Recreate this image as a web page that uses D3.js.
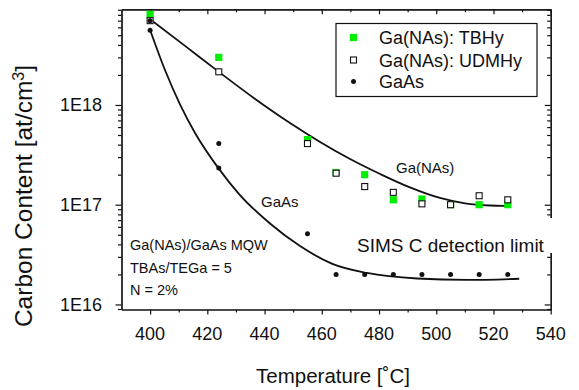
<!DOCTYPE html>
<html>
<head>
<meta charset="utf-8">
<script src="https://cdn.jsdelivr.net/npm/d3@7"></script>
<style>
  body { margin: 0; background: #fff; }
  text { font-family: "Liberation Sans", Arial, sans-serif; fill: #111; }
  .axis path, .axis line { stroke: #111; stroke-width: 1.2; }
</style>
</head>
<body>
<div id="chart"></div>
<script>
// Data
var tbhyTemp = [400, 424, 455, 465, 475, 485, 495, 505, 515, 525];
var tbhyC = [8.1e18, 3.0e18, 4.5e17, 2.1e17, 2.0e17, 1.12e17, 1.14e17, 1.0e17, 1.0e17, 1.0e17];

var udmhyTemp = [400, 424, 455, 465, 475, 485, 495, 505, 515, 525];
var udmhyC = [7.0e18, 2.15e18, 4.1e17, 2.07e17, 1.52e17, 1.33e17, 1.02e17, 1.0e17, 1.23e17, 1.12e17];

var gaasTemp = [400, 400, 424, 424, 455, 465, 475, 485, 495, 505, 515, 525];
var gaasC = [7.0e18, 5.6e18, 4.1e17, 2.33e17, 5.1e16, 2.0e16, 2.0e16, 2.0e16, 2.0e16, 2.0e16, 2.0e16, 2.0e16];

// fit curves
var fitNAsTemp = [400, 412.2, 423.8, 436.7, 448.9, 459.4, 469.9, 480.4, 490.8, 501.3, 510.1, 518.8, 524.1];
var fitNAsC = [7.24e18, 3.91e18, 2.17e18, 1.15e18, 6.6e17, 4.26e17, 2.87e17, 2.03e17, 1.49e17, 1.168e17, 1.03e17, 9.82e16, 9.75e16];

var fitGaAsTemp = [400, 405.2, 410.4, 415.7, 423.8, 431.4, 441.9, 452.4, 463.9, 475.8, 493.3, 510.8, 529];
var fitGaAsC = [5.65e18, 2.24e18, 1.02e18, 5.24e17, 2.34e17, 1.25e17, 6.48e16, 3.85e16, 2.54e16, 2.07e16, 1.82e16, 1.76e16, 1.81e16];

var xMajor = [400, 420, 440, 460, 480, 500, 520, 540];
var xMinor = [410, 430, 450, 470, 490, 510, 530];
var yMajor = [1e16, 1e17, 1e18];
var yMajorLabels = ["1E16", "1E17", "1E18"];

var legendNames = ["Ga(NAs): TBHy", "Ga(NAs): UDMHy", "GaAs"];

var W = 579, H = 390;
var svg = d3.select("#chart").append("svg")
    .attr("width", W)
    .attr("height", H);

var x = d3.scaleLinear().domain([390, 540]).range([121.5, 550.7]);
var y = d3.scaleLog().domain([8.9e15, 9.1e18]).range([309.5, 9.3]);

var yMinor = y.ticks().filter(function (d) {
    return yMajor.indexOf(d) < 0;
});

// bottom axis: outward ticks
svg.append("g").attr("class", "axis")
    .attr("transform", "translate(0," + y.range()[0] + ")")
    .call(d3.axisBottom(x).tickValues(xMajor).tickSize(5).tickSizeOuter(0).tickFormat(""));
svg.append("g").attr("class", "axis")
    .attr("transform", "translate(0," + y.range()[0] + ")")
    .call(d3.axisBottom(x).tickValues(xMinor).tickSize(3).tickSizeOuter(0).tickFormat(""));
svg.append("g").selectAll("text")
    .data(xMajor)
    .join("text")
    .attr("x", function (d) { return x(d); })
    .attr("y", 340)
    .attr("text-anchor", "middle")
    .style("font-size", "18px")
    .text(function (d) { return d; });

// top axis: inward ticks
svg.append("g").attr("class", "axis")
    .attr("transform", "translate(0," + y.range()[1] + ")")
    .call(d3.axisBottom(x).tickValues(xMajor).tickSize(5).tickSizeOuter(0).tickFormat(""));
svg.append("g").attr("class", "axis")
    .attr("transform", "translate(0," + y.range()[1] + ")")
    .call(d3.axisBottom(x).tickValues(xMinor).tickSize(3).tickSizeOuter(0).tickFormat(""));

// left axis: outward ticks
svg.append("g").attr("class", "axis")
    .attr("transform", "translate(" + x.range()[0] + ",0)")
    .call(d3.axisLeft(y).tickValues(yMajor).tickSize(6).tickSizeOuter(0).tickFormat(""));
svg.append("g").attr("class", "axis")
    .attr("transform", "translate(" + x.range()[0] + ",0)")
    .call(d3.axisLeft(y).tickValues(yMinor).tickSize(3.5).tickSizeOuter(0).tickFormat(""));
svg.append("g").selectAll("text")
    .data(yMajor)
    .join("text")
    .attr("x", 102)
    .attr("y", function (d) { return y(d) + 6.5; })
    .attr("text-anchor", "end")
    .style("font-size", "18px")
    .text(function (d, i) { return yMajorLabels[i]; });

// right axis: inward ticks
svg.append("g").attr("class", "axis")
    .attr("transform", "translate(" + x.range()[1] + ",0)")
    .call(d3.axisRight(y).tickValues(yMinor).tickSize(-3.5).tickSizeOuter(0).tickFormat(""));
svg.append("g").attr("class", "axis")
    .attr("transform", "translate(" + x.range()[1] + ",0)")
    .call(d3.axisRight(y).tickValues(yMajor).tickSize(-6).tickSizeOuter(0).tickFormat(""));

// axis titles
svg.append("text")
    .attr("x", 333)
    .attr("y", 383)
    .attr("text-anchor", "middle")
    .style("font-size", "20.5px")
    .text("Temperature [˚C]");

var yTitle = svg.append("text")
    .attr("transform", "translate(32,196) rotate(-90)")
    .attr("text-anchor", "middle")
    .style("font-size", "24.5px");
yTitle.append("tspan").text("Carbon Content [at/cm");
yTitle.append("tspan").attr("baseline-shift", "super").style("font-size", "16px").text("3");
yTitle.append("tspan").text("]");

// fit curves
var line = d3.line()
    .x(function (d) { return x(d[0]); })
    .y(function (d) { return y(d[1]); })
    .curve(d3.curveMonotoneX);

svg.append("path")
    .datum(d3.zip(fitNAsTemp, fitNAsC))
    .attr("d", line)
    .attr("fill", "none")
    .attr("stroke", "#111")
    .attr("stroke-width", 1.8);
svg.append("path")
    .datum(d3.zip(fitGaAsTemp, fitGaAsC))
    .attr("d", line)
    .attr("fill", "none")
    .attr("stroke", "#111")
    .attr("stroke-width", 1.8);

// markers
var green = "#00ee00";
svg.append("g").selectAll("rect")
    .data(d3.zip(tbhyTemp, tbhyC))
    .join("rect")
    .attr("x", function (d) { return x(d[0]) - 3.6; })
    .attr("y", function (d) { return y(d[1]) - 3.6; })
    .attr("width", 7.2)
    .attr("height", 7.2)
    .attr("fill", green);

svg.append("g").selectAll("rect")
    .data(d3.zip(udmhyTemp, udmhyC))
    .join("rect")
    .attr("x", function (d) { return x(d[0]) - 3; })
    .attr("y", function (d) { return y(d[1]) - 3; })
    .attr("width", 6)
    .attr("height", 6)
    .attr("fill", "#fff")
    .attr("stroke", "#111")
    .attr("stroke-width", 1.1);

svg.append("g").selectAll("circle")
    .data(d3.zip(gaasTemp, gaasC))
    .join("circle")
    .attr("cx", function (d) { return x(d[0]); })
    .attr("cy", function (d) { return y(d[1]); })
    .attr("r", 2.5)
    .attr("fill", "#111");

// annotations
svg.append("text").attr("x", 396).attr("y", 173).style("font-size", "15px").text("Ga(NAs)");
svg.append("text").attr("x", 261).attr("y", 207).style("font-size", "15px").text("GaAs");

svg.append("rect")
    .attr("x", 353)
    .attr("y", 218)
    .attr("width", 200)
    .attr("height", 35)
    .attr("fill", "#fff");
svg.append("text").attr("x", 357).attr("y", 252).style("font-size", "19px").text("SIMS C detection limit");

var notes = ["Ga(NAs)/GaAs MQW", "TBAs/TEGa = 5", "N = 2%"];
svg.append("g").selectAll("text")
    .data(notes)
    .join("text")
    .attr("x", 130)
    .attr("y", function (d, i) { return 250 + i * 22.5; })
    .style("font-size", "14.5px")
    .text(function (d) { return d; });

// legend
var lg = svg.append("g").attr("transform", "translate(336,23.5)");
lg.append("rect")
    .attr("width", 201)
    .attr("height", 73)
    .attr("fill", "#fff")
    .attr("stroke", "#111")
    .attr("stroke-width", 1.2);
var rowY = [14, 36.5, 58];
lg.append("rect").attr("x", 17.5 - 3.6).attr("y", rowY[0] - 3.6).attr("width", 7.2).attr("height", 7.2).attr("fill", green);
lg.append("rect").attr("x", 17.5 - 3).attr("y", rowY[1] - 3).attr("width", 6).attr("height", 6)
    .attr("fill", "#fff").attr("stroke", "#111").attr("stroke-width", 1.1);
lg.append("circle").attr("cx", 17.5).attr("cy", rowY[2]).attr("r", 2.5).attr("fill", "#111");
lg.selectAll("text.lab")
    .data(legendNames)
    .join("text")
    .attr("class", "lab")
    .attr("x", 43)
    .attr("y", function (d, i) { return rowY[i] + 6.5; })
    .style("font-size", "18px")
    .text(function (d) { return d; });
</script>
</body>
</html>
